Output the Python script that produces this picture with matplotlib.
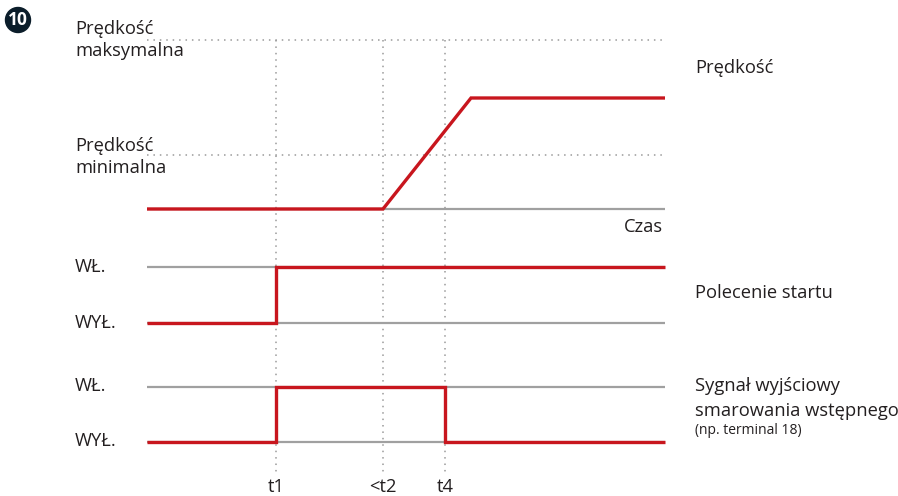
"""Timing diagram: speed, start command and pre-lubrication output signal."""
import matplotlib
matplotlib.use("Agg")
import matplotlib.pyplot as plt
from matplotlib.patches import Circle

plt.rcParams["font.family"] = ["Open Sans", "DejaVu Sans"]

RED = "#c8161e"
GREY = "#a0a0a0"
DOT = "#9a9a9a"
TXT = "#231f20"

# time axis (drawing units)
T_START, T1, T2, T4, T_RAMP, T_END = 147, 276, 383, 445, 471, 665
time_marks = [T1, T2, T4]
time_labels = ["t1", "<t2", "t4"]

# signals: time points and normalised level (0 = low, 1 = high)
speed_t = [T_START, T2, T_RAMP, T_END]
speed_v = [0, 0, 1, 1]
start_t = [T_START, T1, T1, T_END]
start_v = [0, 0, 1, 1]
lube_t = [T_START, T1, T1, T4, T4, T_END]
lube_v = [0, 0, 1, 1, 0, 0]

# speed reference levels relative to the plateau (0 = stop, 1 = plateau)
SPEED_MIN = 0.486
SPEED_MAX = 1.52

# panel geometry: (y of low level, y of high level)
SPEED_Y = (209, 98)
START_Y = (323, 267)
LUBE_Y = (442, 387)


def to_y(levels, panel):
    lo, hi = panel
    return [lo + (hi - lo) * v for v in levels]


fig = plt.figure(figsize=(8.98, 4.96), dpi=100)
ax = fig.add_axes([0, 0, 1, 1])
ax.set_xlim(0, 898)
ax.set_ylim(496, 0)
ax.axis("off")

dot_kw = dict(color=DOT, lw=1.1, ls=(0, (1, 3.2)))
# reference dotted lines
for lvl in (SPEED_MAX, SPEED_MIN):
    y = to_y([lvl], SPEED_Y)[0]
    ax.plot([T_START, T_END], [y, y], **dot_kw)
top = to_y([SPEED_MAX], SPEED_Y)[0]
for t in time_marks:
    ax.plot([t, t], [top, 472], **dot_kw)

# grey base lines
for panel in (START_Y, LUBE_Y):
    for y in panel:
        ax.plot([T_START, T_END], [y, y], color=GREY, lw=1.6, solid_capstyle="butt")
ax.plot([T_START, T_END], [SPEED_Y[0]] * 2, color=GREY, lw=1.6, solid_capstyle="butt")

# red signals
sig_kw = dict(color=RED, lw=2.4, solid_joinstyle="miter", solid_capstyle="butt")
ax.plot(speed_t, to_y(speed_v, SPEED_Y), **sig_kw)
ax.plot(start_t, to_y(start_v, START_Y), **sig_kw)
ax.plot(lube_t, to_y(lube_v, LUBE_Y), **sig_kw)

# labels
fs = 13.2
tk = dict(color=TXT, fontsize=fs)
ax.text(75, 40, "Prędkość\nmaksymalna", va="center", ha="left", linespacing=1.35, **tk)
ax.text(75, 157, "Prędkość\nminimalna", va="center", ha="left", linespacing=1.3, **tk)
ax.text(695, 68, "Prędkość", va="center", ha="left", **tk)
ax.text(663, 227, "Czas", va="center", ha="right", **tk)
ax.text(75, 267, "WŁ.", va="center", ha="left", **tk)
ax.text(75, 323, "WYŁ.", va="center", ha="left", **tk)
ax.text(695, 293, "Polecenie startu", va="center", ha="left", **tk)
ax.text(75, 386, "WŁ.", va="center", ha="left", **tk)
ax.text(75, 441, "WYŁ.", va="center", ha="left", **tk)
ax.text(695, 386, "Sygnał wyjściowy", va="center", ha="left", **tk)
ax.text(695, 411, "smarowania wstępnego", va="center", ha="left", **tk)
ax.text(695, 431, "(np. terminal 18)", va="center", ha="left", color=TXT, fontsize=10)
for t, lab in zip(time_marks, time_labels):
    ax.text(t, 487, lab, va="center", ha="center", **tk)

# badge
ax.add_patch(Circle((18, 20), 12.5, color="#0b1d2a"))
ax.text(18, 20, "10", color="white", fontsize=12.5, fontweight="bold",
        ha="center", va="center")

fig.savefig("out.png", dpi=100)
